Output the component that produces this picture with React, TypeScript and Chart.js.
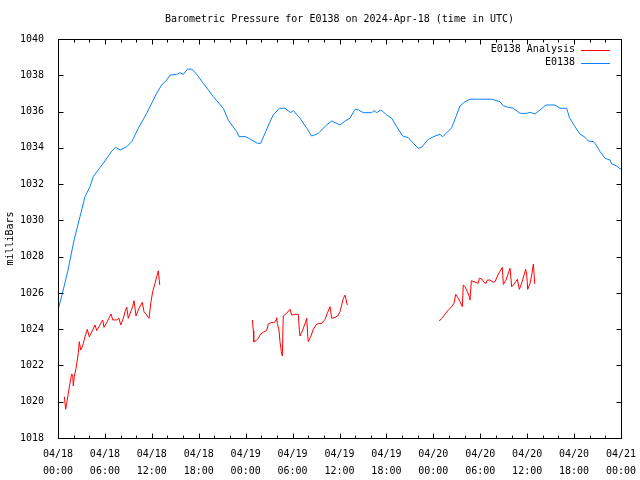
import { useEffect, useRef } from "react";
import { Chart, registerables } from "chart.js";

Chart.register(...registerables);

// ---- Text ----
const titleText = "Barometric Pressure for E0138 on 2024-Apr-18 (time in UTC)";
const yAxisLabel = "milliBars";
const analysisLabel = "E0138 Analysis";
const stationLabel = "E0138";

// ---- Axes (x in hours since 04/18 00:00 UTC) ----
const xMin = 0;
const xMax = 72;
const xMajorStep = 6;
const xMinorStep = 2;
const xTickDates = ["04/18", "04/18", "04/18", "04/18", "04/19", "04/19", "04/19", "04/19", "04/20", "04/20", "04/20", "04/20", "04/21"];
const xTickTimes = ["00:00", "06:00", "12:00", "18:00", "00:00", "06:00", "12:00", "18:00", "00:00", "06:00", "12:00", "18:00", "00:00"];
const yMin = 1018;
const yMax = 1040;
const yStep = 2;

// ---- E0138 observed pressure ----
const stationHours = [0, 0.51, 1.28, 2.08, 2.81, 3.45, 4.09, 4.51, 5.79, 6.87, 7.38, 7.93, 8.79, 9.43, 10.27, 11.34, 12.62, 13.26, 13.9, 14.32, 15.18, 15.6, 16.03, 16.54, 17.1, 17.74, 18.58, 19.86, 21.14, 21.78, 22.85, 23.15, 23.92, 24.47, 24.77, 25.49, 25.92, 26.47, 27.11, 27.53, 28.3, 29.03, 29.76, 30.09, 30.95, 31.81, 32.44, 33.29, 34.36, 35.0, 36.06, 36.7, 37.34, 37.98, 38.41, 39.04, 40.12, 40.41, 40.76, 41.31, 42.04, 42.68, 43.32, 44.08, 44.8, 45.44, 46.08, 46.51, 47.36, 48.0, 48.85, 49.2, 49.71, 50.35, 50.9, 51.41, 52.05, 52.69, 53.75, 55.47, 56.53, 56.95, 57.59, 58.23, 59.09, 59.94, 60.37, 61.0, 62.41, 63.56, 64.2, 65.06, 65.39, 66.12, 66.76, 67.4, 67.82, 68.46, 68.68, 69.32, 69.96, 70.6, 70.82, 71.45, 71.79, 72];
const stationPressure = [1025.06, 1025.88, 1027.26, 1028.96, 1030.2, 1031.3, 1031.86, 1032.41, 1033.15, 1033.82, 1034.03, 1033.88, 1034.06, 1034.34, 1035.08, 1035.9, 1037.01, 1037.46, 1037.74, 1038.01, 1038.05, 1038.14, 1038.05, 1038.33, 1038.35, 1038.05, 1037.56, 1036.82, 1036.18, 1035.53, 1034.89, 1034.61, 1034.62, 1034.52, 1034.43, 1034.25, 1034.25, 1034.8, 1035.44, 1035.81, 1036.18, 1036.18, 1035.94, 1036.05, 1035.63, 1035.08, 1034.65, 1034.8, 1035.26, 1035.48, 1035.26, 1035.48, 1035.63, 1036.12, 1036.09, 1035.94, 1035.94, 1036.05, 1035.94, 1036.09, 1035.81, 1035.63, 1035.16, 1034.65, 1034.56, 1034.25, 1033.97, 1034.03, 1034.47, 1034.61, 1034.75, 1034.61, 1034.83, 1035.11, 1035.72, 1036.31, 1036.54, 1036.68, 1036.68, 1036.68, 1036.54, 1036.32, 1036.23, 1036.18, 1035.9, 1035.9, 1035.96, 1035.86, 1036.36, 1036.36, 1036.18, 1036.18, 1035.68, 1035.16, 1034.76, 1034.58, 1034.38, 1034.34, 1034.25, 1033.79, 1033.42, 1033.33, 1033.11, 1033.0, 1032.87, 1032.83];

// ---- E0138 Analysis (three separate runs) ----
const analysisRun1Hours = [0.81, 0.98, 1.11, 1.32, 1.53, 1.75, 1.88, 1.96, 2.08, 2.3, 2.47, 2.6, 2.72, 2.9, 3.03, 3.24, 3.45, 3.75, 4.0, 4.18, 4.44, 4.73, 4.95, 5.24, 5.46, 5.72, 5.88, 6.23, 6.56, 6.78, 7.0, 7.51, 7.8, 8.02, 8.35, 8.57, 8.79, 8.99, 9.3, 9.55, 9.72, 9.98, 10.27, 10.49, 10.78, 11.0, 11.34, 11.64, 11.86, 12.11, 12.41, 12.62, 12.83, 13.01];
const analysisRun1Pressure = [1020.28, 1019.58, 1019.91, 1020.46, 1021.02, 1021.53, 1021.47, 1020.87, 1021.38, 1021.84, 1022.3, 1022.7, 1023.31, 1022.85, 1022.95, 1023.22, 1023.58, 1023.99, 1023.58, 1023.73, 1023.95, 1024.23, 1023.92, 1024.14, 1024.32, 1024.51, 1024.1, 1024.36, 1024.65, 1024.84, 1024.51, 1024.51, 1024.6, 1024.23, 1024.6, 1024.96, 1025.21, 1024.6, 1024.96, 1025.24, 1025.57, 1024.73, 1025.06, 1025.24, 1025.48, 1024.96, 1024.78, 1024.6, 1025.43, 1026.07, 1026.53, 1026.89, 1027.22, 1026.44];
const analysisRun2Hours = [24.85, 24.98, 25.03, 25.32, 25.62, 25.92, 26.26, 26.69, 26.9, 27.2, 27.66, 27.88, 27.97, 28.05, 28.26, 28.39, 28.56, 28.69, 28.81, 29.25, 29.67, 29.89, 30.31, 30.73, 30.86, 30.95, 31.3, 31.59, 31.81, 31.93, 32.01, 32.32, 32.65, 33.0, 33.29, 33.72, 34.15, 34.44, 34.79, 35.0, 35.43, 35.77, 36.06, 36.28, 36.49, 36.7, 37.0];
const analysisRun2Pressure = [1024.51, 1023.92, 1023.31, 1023.36, 1023.5, 1023.73, 1023.83, 1023.92, 1024.29, 1024.36, 1024.36, 1024.51, 1024.63, 1024.32, 1023.95, 1023.31, 1022.76, 1022.52, 1024.73, 1024.88, 1025.1, 1024.78, 1024.82, 1024.82, 1023.95, 1023.62, 1023.95, 1024.32, 1024.6, 1023.68, 1023.31, 1023.59, 1023.99, 1024.23, 1024.32, 1024.32, 1024.54, 1024.88, 1025.24, 1024.6, 1024.65, 1024.73, 1024.96, 1025.33, 1025.7, 1025.88, 1025.33];
const analysisRun3Hours = [48.76, 49.07, 49.49, 49.92, 50.35, 50.64, 50.86, 51.19, 51.41, 51.71, 51.83, 52.05, 52.35, 52.6, 52.69, 52.86, 53.2, 53.55, 53.75, 53.88, 54.19, 54.48, 54.74, 54.9, 55.25, 55.67, 55.89, 56.31, 56.62, 56.82, 56.95, 57.29, 57.59, 57.81, 58.02, 58.23, 58.54, 58.74, 59.0, 59.3, 59.6, 59.81, 59.94, 60.07, 60.37, 60.58, 60.79, 60.97];
const analysisRun3Pressure = [1024.45, 1024.6, 1024.82, 1025.06, 1025.24, 1025.43, 1025.92, 1025.7, 1025.51, 1025.24, 1026.44, 1026.34, 1026.07, 1025.79, 1025.61, 1026.67, 1026.62, 1026.56, 1026.53, 1026.81, 1026.77, 1026.58, 1026.53, 1026.71, 1026.71, 1026.58, 1026.62, 1027.04, 1027.26, 1027.41, 1026.47, 1026.71, 1027.08, 1027.36, 1026.34, 1026.44, 1026.62, 1026.75, 1026.2, 1026.53, 1026.99, 1027.3, 1027.04, 1026.2, 1026.53, 1026.99, 1027.59, 1026.49];

const analysisColor = "#ff0000";
const stationColor = "#0a80ff";
const FONT = "'DejaVu Sans Mono', 'Liberation Mono', monospace";

type Pt = { x: number; y: number | null };
const toPoints = (xs: number[], ys: number[]): Pt[] => xs.map((x, i) => ({ x, y: ys[i] }));
const joinRuns = (runs: Pt[][]): Pt[] => {
  const out: Pt[] = [];
  runs.forEach((r, i) => {
    if (i > 0) out.push({ x: (out[out.length - 1].x + r[0].x) / 2, y: null });
    out.push(...r);
  });
  return out;
};

const framePlugin = {
  id: "gnuFrame",
  afterDraw(chart: any) {
    const { ctx, chartArea: a, scales } = chart;
    const xs = scales.x;
    const ys = scales.y;
    const L = Math.round(a.left) + 0.5;
    const R = Math.round(a.right) + 0.5;
    const T = Math.round(a.top) + 0.5;
    const B = Math.round(a.bottom) + 0.5;
    ctx.save();
    ctx.strokeStyle = "#000";
    ctx.lineWidth = 1;
    ctx.beginPath();
    for (let v = xMin; v <= xMax + 1e-9; v += xMinorStep) {
      const major = Math.abs(v / xMajorStep - Math.round(v / xMajorStep)) < 1e-9;
      const len = major ? 5 : 3;
      const px = Math.round(xs.getPixelForValue(v)) + 0.5;
      ctx.moveTo(px, B);
      ctx.lineTo(px, B - len);
      ctx.moveTo(px, T);
      ctx.lineTo(px, T + len);
    }
    for (let v = yMin; v <= yMax + 1e-9; v += yStep) {
      const py = Math.round(ys.getPixelForValue(v)) + 0.5;
      ctx.moveTo(L, py);
      ctx.lineTo(L + 5, py);
      ctx.moveTo(R, py);
      ctx.lineTo(R - 5, py);
    }
    ctx.stroke();
    ctx.strokeRect(L, T, R - L, B - T);

    // title
    ctx.fillStyle = "#000";
    ctx.font = `10px ${FONT}`;
    ctx.textAlign = "center";
    ctx.textBaseline = "middle";
    ctx.fillText(titleText, (a.left + a.right) / 2, 19);

    // legend (inside, top right)
    ctx.textAlign = "right";
    const rows = chart.data.datasets;
    rows.forEach((ds: any, i: number) => {
      const y = 49.5 + i * 13;
      ctx.fillStyle = "#000";
      ctx.fillText(ds.label, 575, y);
      ctx.strokeStyle = ds.borderColor;
      ctx.beginPath();
      ctx.moveTo(581, Math.round(y) + 0.5);
      ctx.lineTo(610, Math.round(y) + 0.5);
      ctx.stroke();
    });
    ctx.restore();
  },
};

export default function App() {
  const ref = useRef<HTMLCanvasElement>(null);
  useEffect(() => {
    document.body.style.margin = "0";
    const canvas = ref.current!;
    const analysisData = joinRuns([
      toPoints(analysisRun1Hours, analysisRun1Pressure),
      toPoints(analysisRun2Hours, analysisRun2Pressure),
      toPoints(analysisRun3Hours, analysisRun3Pressure),
    ]);
    const stationData = toPoints(stationHours, stationPressure);
    const chart = new Chart(canvas, {
      type: "line",
      data: {
        datasets: [
          {
            label: analysisLabel,
            data: analysisData as any,
            borderColor: analysisColor,
            borderWidth: 1,
            pointRadius: 0,
            tension: 0,
            spanGaps: false,
          },
          {
            label: stationLabel,
            data: stationData as any,
            borderColor: stationColor,
            borderWidth: 1,
            pointRadius: 0,
            tension: 0,
          },
        ],
      },
      options: {
        responsive: false,
        animation: false,
        devicePixelRatio: 1,
        layout: { padding: { top: 39, right: 19, bottom: 0, left: 0 } },
        plugins: {
          legend: { display: false },
          title: { display: false },
          tooltip: { enabled: false },
        },
        scales: {
          x: {
            type: "linear",
            min: xMin,
            max: xMax,
            grid: { display: false },
            border: { display: false },
            ticks: {
              stepSize: xMajorStep,
              autoSkip: false,
              maxRotation: 0,
              padding: 0,
              color: "#000",
              font: { family: FONT, size: 10, lineHeight: 1.7 },
              callback: (v: any) => {
                const i = Math.round(Number(v) / xMajorStep);
                return [xTickDates[i], xTickTimes[i]];
              },
            },
            afterFit: (s: any) => {
              s.height = 42;
              s.paddingLeft = 0;
              s.paddingRight = 0;
            },
          },
          y: {
            type: "linear",
            min: yMin,
            max: yMax,
            grid: { display: false },
            border: { display: false },
            ticks: {
              stepSize: yStep,
              padding: 6,
              color: "#000",
              font: { family: FONT, size: 10 },
              callback: (v: any) => String(v),
            },
            title: {
              display: true,
              text: yAxisLabel,
              color: "#000",
              font: { family: FONT, size: 10 },
              padding: { top: 4, bottom: 0 },
            },
            afterFit: (s: any) => {
              s.width = 58;
              s.paddingTop = 0;
              s.paddingBottom = 0;
            },
          },
        },
      },
      plugins: [framePlugin],
    });
    return () => chart.destroy();
  }, []);
  return <canvas ref={ref} width={640} height={480} style={{ display: "block" }} />;
}
